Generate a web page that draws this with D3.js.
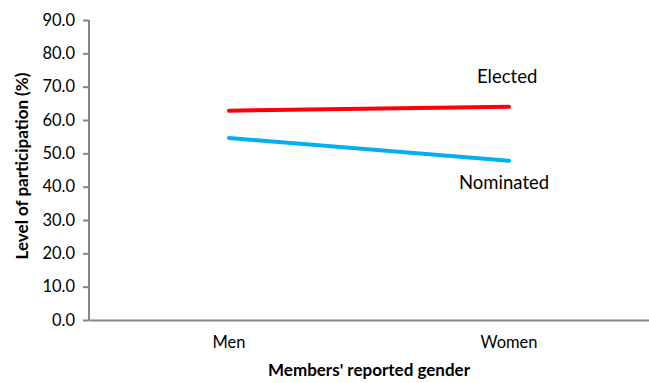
<!DOCTYPE html>
<html lang="en">
  <head>
    <meta charset="utf-8">
    <title>Level of participation by gender</title>
    <script src="https://cdn.jsdelivr.net/npm/d3@7"></script>
    <style>
      body { margin: 0; background: #fff; }
      text { font-family: Lato, "Open Sans", sans-serif; fill: #000; }
      .axis path, .axis line { stroke: #868686; stroke-width: 2; }
      .axis text { font-size: 16.5px; }
      .title { font-weight: bold; font-size: 17px; }
      .series-label { font-size: 18.5px; }
    </style>
  </head>
  <body>
    <div id="chart"></div>
    <script>
      // data
      var genders = ["Men", "Women"]
      var elected = [62.8, 64.0]
      var nominated = [54.6, 47.8]
      var yTicks = [0, 10, 20, 30, 40, 50, 60, 70, 80, 90]

      var series = [
        {name: "Elected", values: elected, color: "#ff0000", dx: -32, dy: -24},
        {name: "Nominated", values: nominated, color: "#00b0f0", dx: -50, dy: 28}
      ]

      var w = 649, h = 383
      var margin = {top: 20, right: 0, bottom: 63, left: 89}

      var svg = d3.select("#chart").append("svg")
        .attr("width", w)
        .attr("height", h)

      var x = d3.scaleBand()
        .domain(genders)
        .range([margin.left, w - margin.right])

      var y = d3.scaleLinear()
        .domain([0, 90])
        .range([h - margin.bottom, margin.top])

      // y axis
      var gY = svg.append("g")
        .attr("class", "axis")
        .attr("transform", "translate(" + margin.left + ",0)")
        .call(d3.axisLeft(y).tickValues(yTicks).tickFormat(d3.format(".1f")).tickSizeOuter(0).tickSize(6).tickPadding(8))
      gY.select(".domain").attr("d", "M0," + y(90) + "V" + y(0))

      // x axis (no ticks)
      var gX = svg.append("g")
        .attr("class", "axis")
        .attr("transform", "translate(0," + y(0) + ")")
        .call(d3.axisBottom(x).tickSize(0).tickPadding(16))

      // lines
      var line = d3.line()
        .x(function(d, i) { return x(genders[i]) + x.bandwidth() / 2 })
        .y(function(d) { return y(d) })

      series.forEach(function(s) {
        svg.append("path")
          .attr("d", line(s.values))
          .attr("fill", "none")
          .attr("stroke", s.color)
          .attr("stroke-width", 4)
          .attr("stroke-linecap", "round")

        var last = s.values.length - 1
        svg.append("text")
          .attr("class", "series-label")
          .attr("x", x(genders[last]) + x.bandwidth() / 2 + s.dx)
          .attr("y", y(s.values[last]) + s.dy)
          .text(s.name)
      })

      // axis titles
      svg.append("text")
        .attr("class", "title")
        .attr("text-anchor", "middle")
        .attr("transform", "translate(28,166) rotate(-90)")
        .text("Level of participation (%)")

      svg.append("text")
        .attr("class", "title")
        .attr("text-anchor", "middle")
        .attr("x", (x(genders[0]) + x(genders[1]) + x.bandwidth()) / 2)
        .attr("y", 376)
        .text("Members' reported gender")
    </script>
  </body>
</html>
